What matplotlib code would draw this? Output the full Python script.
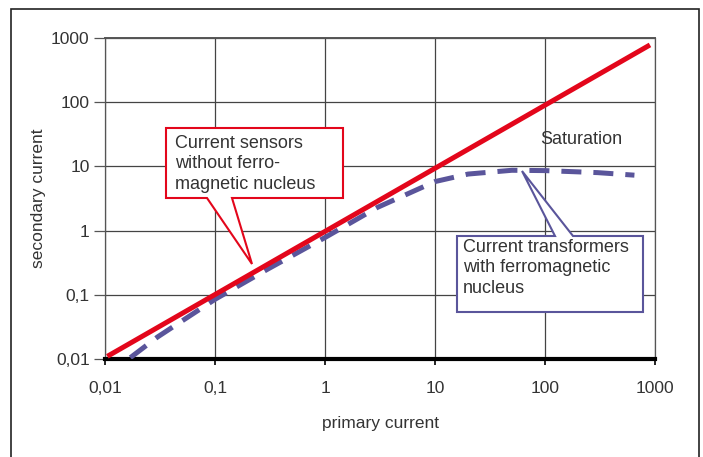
import matplotlib.pyplot as plt
import matplotlib.patches as mpatches
import numpy as np

# values
decades = [0.01, 0.1, 1, 10, 100, 1000]
decade_labels = ["0,01", "0,1", "1", "10", "100", "1000"]

sensor_x = [0.0105, 900]
sensor_y = [0.011, 780]

transformer_x = [0.017, 0.03, 0.1, 0.3, 1, 3, 10, 20, 50, 100, 300, 650]
transformer_y = [0.0105, 0.022, 0.085, 0.25, 0.78, 2.3, 5.8, 7.6, 8.7, 8.6, 8.0, 7.3]

RED = "#e3061b"
BLUE = "#5a559b"
TXT = "#333333"

plt.rcParams['font.family'] = ['Liberation Sans', 'DejaVu Sans']

W, H = 703, 457
fig = plt.figure(figsize=(W / 100, H / 100), dpi=100)
ax = fig.add_axes([105 / W, 1 - 359 / H, 550 / W, 321 / H])


def px(x, y):
    return (x / W, 1 - y / H)


# outer frame
fig.patches.append(mpatches.Rectangle(px(11, 470), 688 / W, 461 / H, transform=fig.transFigure,
                                      fill=False, edgecolor="#222222", lw=1.2, clip_on=False))

ax.set_xscale('log')
ax.set_yscale('log')
ax.set_xlim(0.01, 1000)
ax.set_ylim(0.01, 1000)
ax.set_xticks(decades, decade_labels)
ax.set_yticks(decades, decade_labels)
ax.minorticks_off()
ax.grid(True, color="#444444", lw=0.9)
ax.set_axisbelow(True)

for s in ['top', 'right']:
    ax.spines[s].set_color("#555555")
    ax.spines[s].set_linewidth(0.9)
ax.spines['top'].set_linewidth(1.4)
ax.spines['left'].set_color("#555555")
ax.spines['left'].set_linewidth(0.9)
ax.spines['bottom'].set_color("black")
ax.spines['bottom'].set_linewidth(3)

ax.tick_params(axis='y', direction='out', length=8, width=0.9, color="#555555",
               labelsize=12.5, labelcolor=TXT, pad=3)
ax.tick_params(axis='x', direction='out', length=4, width=1.2, color="black",
               labelsize=12.5, labelcolor=TXT, pad=12)

ax.plot(transformer_x, transformer_y, color=BLUE, lw=3.6, dashes=(4, 2.4), zorder=3)
ax.plot(sensor_x, sensor_y, color=RED, lw=3.6, solid_capstyle='butt', zorder=4)

ax.set_xlabel("primary current", fontsize=12.5, color=TXT, labelpad=14)
ax.set_ylabel("secondary current", fontsize=12.5, color=TXT, labelpad=4)


def callout(box, gap, tip, color, side):
    x0, y0, x1, y1 = box
    g0, g1 = gap
    if side == 'bottom':
        pts = [(x0, y0), (x1, y0), (x1, y1), (g1, y1), tip, (g0, y1), (x0, y1)]
    else:
        pts = [(x0, y0), (g0, y0), tip, (g1, y0), (x1, y0), (x1, y1), (x0, y1)]
    poly = mpatches.Polygon([px(*p) for p in pts], closed=True, transform=fig.transFigure,
                            facecolor="white", edgecolor=color, lw=1.5, zorder=10)
    fig.patches.append(poly)


callout((166, 128, 343, 198), (207, 232), (252, 264), RED, 'bottom')
callout((457, 236, 643, 312), (555, 573), (522, 171), BLUE, 'top')

fig.text(*px(175, 164), "Current sensors\nwithout ferro-\nmagnetic nucleus", fontsize=13,
         color=TXT, va='center', ha='left', linespacing=1.3, zorder=11)
fig.text(*px(463, 268), "Current transformers\nwith ferromagnetic\nnucleus", fontsize=13,
         color=TXT, va='center', ha='left', linespacing=1.3, zorder=11)
fig.text(*px(581, 140), "Saturation", fontsize=13, color=TXT, va='center', ha='center')

fig.savefig("out.png", dpi=100)
